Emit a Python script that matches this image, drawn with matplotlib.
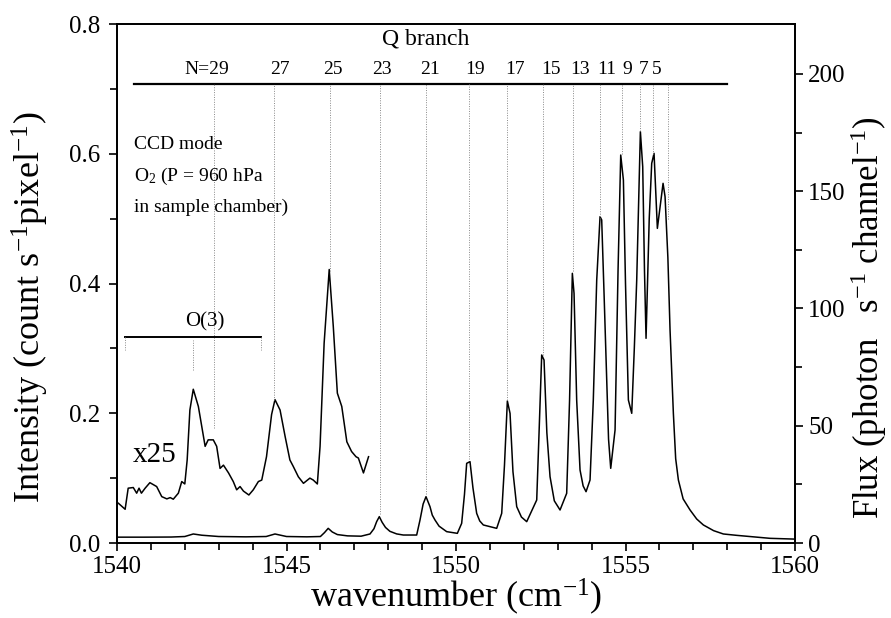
import matplotlib
matplotlib.use("Agg")
import matplotlib.pyplot as plt
from matplotlib.ticker import MultipleLocator, FormatStrFormatter

plt.rcParams['font.family'] = ['Liberation Serif', 'DejaVu Serif']
plt.rcParams['mathtext.fontset'] = 'custom'
plt.rcParams['mathtext.rm'] = 'Liberation Serif'
plt.rcParams['mathtext.it'] = 'Liberation Serif:italic'

# ---- main spectrum (intensity, count s^-1 pixel^-1) ----
main_w = [1540.0, 1540.8, 1541.6, 1542.0, 1542.25, 1542.5, 1543.0, 1543.8, 1544.4, 1544.66,
          1545.0, 1545.6, 1546.0, 1546.12, 1546.23, 1546.35, 1546.5, 1546.8, 1547.2, 1547.463,
          1547.58, 1547.66, 1547.738, 1547.82, 1547.92, 1548.05, 1548.25, 1548.446,
          1548.84, 1548.938, 1549.03, 1549.115, 1549.233, 1549.3, 1549.381, 1549.5, 1549.725,
          1550.04, 1550.167, 1550.25, 1550.315, 1550.413, 1550.5, 1550.61, 1550.7, 1550.806,
          1551.2, 1551.348, 1551.43, 1551.515, 1551.594, 1551.68, 1551.791, 1551.93, 1552.086,
          1552.381, 1552.45, 1552.528, 1552.597, 1552.68, 1552.774, 1552.9, 1553.069,
          1553.265, 1553.35, 1553.432, 1553.482, 1553.56, 1553.659, 1553.75, 1553.836,
          1553.954, 1554.05, 1554.151, 1554.249, 1554.298, 1554.37, 1554.446, 1554.5, 1554.564,
          1554.692, 1554.78, 1554.859, 1554.938, 1555.0, 1555.085, 1555.184,
          1555.26, 1555.331, 1555.439, 1555.508, 1555.56, 1555.606, 1555.7, 1555.773,
          1555.842, 1555.94, 1556.108, 1556.167, 1556.25, 1556.314, 1556.412, 1556.48, 1556.56,
          1556.7, 1556.904, 1557.1, 1557.297, 1557.6, 1557.887, 1558.28, 1559.263, 1560.0]
main_i = [0.009, 0.009, 0.0092, 0.010, 0.0139, 0.012, 0.010, 0.0095, 0.010, 0.0139,
          0.010, 0.0095, 0.010, 0.016, 0.0226, 0.017, 0.013, 0.011, 0.0105, 0.0139,
          0.022, 0.033, 0.0406, 0.032, 0.024, 0.018, 0.014, 0.0123,
          0.0123, 0.0354, 0.060, 0.0714, 0.056, 0.043, 0.0354, 0.026, 0.0175,
          0.0149, 0.0303, 0.075, 0.1228, 0.1254, 0.085, 0.0457, 0.034, 0.0278,
          0.0226, 0.0457, 0.12, 0.2189, 0.1999, 0.11, 0.056, 0.040, 0.0329,
          0.0663, 0.17, 0.2898, 0.282, 0.17, 0.1022, 0.065, 0.0509,
          0.0766, 0.22, 0.4157, 0.3848, 0.22, 0.1125, 0.088, 0.0791,
          0.0971, 0.22, 0.4054, 0.503, 0.4979, 0.38, 0.2513, 0.16, 0.1151,
          0.1742, 0.42, 0.598, 0.5595, 0.40, 0.2204, 0.1999,
          0.30, 0.4054, 0.634, 0.58, 0.42, 0.3155, 0.50, 0.5852,
          0.6006, 0.485, 0.5544, 0.5338, 0.44, 0.3283, 0.1999, 0.13, 0.0971,
          0.068, 0.0509, 0.037, 0.0278, 0.019, 0.0139, 0.0118, 0.0072, 0.006]

# ---- x25 magnified trace ----
x25_w = [1540.04, 1540.24, 1540.33, 1540.48, 1540.58, 1540.65, 1540.72, 1540.83, 1540.97, 1541.17,
         1541.32, 1541.47, 1541.57, 1541.66, 1541.81, 1541.91, 1542.0, 1542.07, 1542.15, 1542.25,
         1542.40, 1542.60, 1542.69, 1542.84, 1542.94, 1543.04, 1543.14, 1543.29, 1543.43, 1543.53,
         1543.63, 1543.73, 1543.89, 1544.02, 1544.17, 1544.27, 1544.41, 1544.56, 1544.66, 1544.81,
         1544.96, 1545.10, 1545.20, 1545.35, 1545.50, 1545.69, 1545.79, 1545.91, 1545.99, 1546.11,
         1546.26, 1546.38, 1546.50, 1546.63, 1546.78, 1546.92, 1547.05, 1547.12, 1547.27, 1547.42]
x25_i = [0.0613, 0.052, 0.0845, 0.0855, 0.0768, 0.0845, 0.0768, 0.0845, 0.093, 0.087,
         0.0715, 0.068, 0.070, 0.0675, 0.0768, 0.0947, 0.091, 0.128, 0.205, 0.237,
         0.2105, 0.149, 0.159, 0.159, 0.149, 0.115, 0.120, 0.108, 0.0947, 0.082,
         0.087, 0.080, 0.074, 0.082, 0.0947, 0.097, 0.133, 0.198, 0.221, 0.205,
         0.164, 0.128, 0.118, 0.102, 0.092, 0.100, 0.097, 0.091, 0.149, 0.308,
         0.4216, 0.334, 0.231, 0.2105, 0.156, 0.141, 0.133, 0.131, 0.108, 0.133]

# ---- Q-branch assignment ----
q_labels = ["N=29", "27", "25", "23", "21", "19", "17", "15", "13", "11", "9", "7", "5"]
q_label_w = [1542.65, 1544.81, 1546.37, 1547.81, 1549.23, 1550.55, 1551.74, 1552.80,
             1553.67, 1554.45, 1555.04, 1555.54, 1555.91]
q_line_w = [1542.85, 1544.63, 1546.27, 1547.76, 1549.12, 1550.39, 1551.51, 1552.58,
            1553.46, 1554.25, 1554.89, 1555.43, 1555.82, 1556.24]
q_line_bottom = [0.177, 0.221, 0.42, 0.045, 0.075, 0.13, 0.22, 0.29, 0.42, 0.50, 0.60, 0.635,
                 0.60, 0.50]
q_bar_y = 0.707
q_bar_span = [1540.5, 1558.0]

o3_span = [1540.24, 1544.25]
o3_y = 0.318

fig = plt.figure(figsize=(8.91, 6.18), dpi=100)
ax = fig.add_axes([117/891, 1-543/618, (795-117)/891, (543-24)/618])

ax.plot(main_w, main_i, color='black', lw=1.1)
ax.plot(x25_w, x25_i, color='black', lw=1.1)

dot = (0, (1, 1.5))
# Q branch bar and dotted guide lines
ax.plot(q_bar_span, [q_bar_y, q_bar_y], color='black', lw=1.6)
for xw, yb in zip(q_line_w, q_line_bottom):
    ax.plot([xw, xw], [yb, q_bar_y], color='#888888', lw=0.7, ls=dot)
for lab, xw in zip(q_labels, q_label_w):
    ax.text(xw, 0.717, lab, ha='center', va='bottom', fontsize=14)
ax.text(1549.1, 0.76, "Q branch", ha='center', va='bottom', fontsize=17)

# O(3)
ax.plot(o3_span, [o3_y, o3_y], color='black', lw=1.4)
for xw in o3_span:
    ax.plot([xw, xw], [o3_y, 0.297], color='#888888', lw=0.7, ls=dot)
ax.plot([1542.25, 1542.25], [0.267, 0.313], color='#888888', lw=0.7, ls=dot)
ax.text(1542.6, 0.326, "O(3)", ha='center', va='bottom', fontsize=15)

ax.text(1540.5, 0.615, "CCD mode", ha='left', va='center', fontsize=14)
ax.text(1540.5, 0.565, "O$_2$ (P = 960 hPa", ha='left', va='center', fontsize=14)
ax.text(1540.5, 0.518, "in sample chamber)", ha='left', va='center', fontsize=14)
ax.text(1540.45, 0.135, "x25", ha='left', va='center', fontsize=21)

ax.set_xlim(1540, 1560)
ax.set_ylim(0, 0.8)
ax.xaxis.set_major_locator(MultipleLocator(5))
ax.xaxis.set_minor_locator(MultipleLocator(1))
ax.yaxis.set_major_locator(MultipleLocator(0.2))
ax.yaxis.set_minor_locator(MultipleLocator(0.1))
ax.yaxis.set_major_formatter(FormatStrFormatter('%.1f'))
ax.tick_params(which='both', direction='out', top=False, right=False, labelsize=18, width=1.2)
ax.tick_params(axis='y', pad=6)
ax.tick_params(which='major', length=6)
ax.tick_params(which='minor', length=5)
for s in ax.spines.values():
    s.set_linewidth(1.3)
ax.set_xlabel("wavenumber (cm$^{-1}$)", fontsize=26, labelpad=-1)
ax.set_ylabel("Intensity (count s$^{-1}$pixel$^{-1}$)", fontsize=26)
ax.yaxis.set_label_coords(-0.097, 0.455)

ax2 = ax.twinx()
ax2.set_ylim(0, 221.3)
ax2.yaxis.set_major_locator(MultipleLocator(50))
ax2.yaxis.set_minor_locator(MultipleLocator(25))
ax2.tick_params(which='both', direction='out', labelsize=18, width=1.2)
ax2.tick_params(which='major', length=6)
ax2.tick_params(which='minor', length=5)
for s in ax2.spines.values():
    s.set_linewidth(1.3)
ax2.set_ylabel("Flux (photon   s$^{-1}$ channel$^{-1}$)", fontsize=25)
ax2.yaxis.set_label_coords(1.078, 0.434)

fig.savefig("out.png", dpi=100)
